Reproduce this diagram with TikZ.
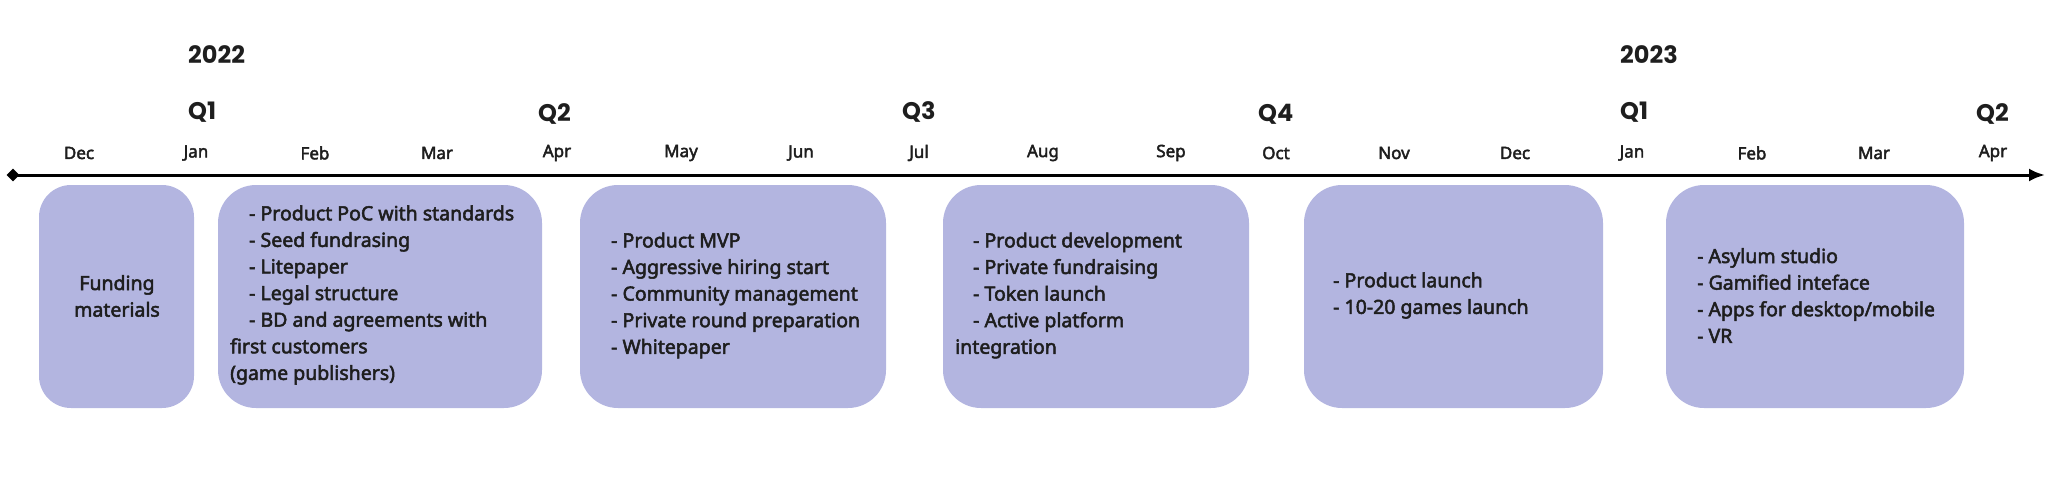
\documentclass[tikz,border=0pt]{standalone}
\usepackage{fontspec}
\setmainfont{Noto Sans}[AutoFakeBold=2.6]
\newfontfamily\qfont{Poppins}
\usetikzlibrary{shapes.geometric,arrows.meta}
\definecolor{boxfill}{HTML}{B3B5E0}
\definecolor{ink}{HTML}{1E1E1E}
\begin{document}
\begin{tikzpicture}[x=1pt,y=-1pt,
  phasebox/.style={fill=boxfill, draw=none, rounded corners=38pt, inner sep=0pt},
  month/.style={font=\fontsize{17}{20}\selectfont\bfseries, text=ink, inner sep=0pt, anchor=center},
  quarter/.style={font=\qfont\fontsize{24}{28}\selectfont\bfseries, text=ink, inner sep=0pt, anchor=west},
  item/.style={font=\fontsize{19.5}{26.6}\selectfont\bfseries, text=ink, align=left, inner sep=0pt, anchor=west}]
\useasboundingbox (0,0) rectangle (2059,485);

% years
\node[quarter] (y2022) at (188,55) {2022};
\node[quarter] (y2023) at (1620,55) {2023};

% quarters
\node[quarter] (q1a) at (188,112) {Q1};
\node[quarter] (q2a) at (538,114) {Q2};
\node[quarter] (q3a) at (902,112) {Q3};
\node[quarter] (q4a) at (1258,114) {Q4};
\node[quarter] (q1b) at (1620,112) {Q1};
\node[quarter] (q2b) at (1976,114) {Q2};

% months
\node[month] (m1) at (79,153) {Dec};
\node[month] (m2) at (196,153) {Jan};
\node[month] (m3) at (315,153) {Feb};
\node[month] (m4) at (437,153) {Mar};
\node[month] (m5) at (557,153) {Apr};
\node[month] (m6) at (681,153) {May};
\node[month] (m7) at (801,153) {Jun};
\node[month] (m8) at (919,153) {Jul};
\node[month] (m9) at (1043,153) {Aug};
\node[month] (m10) at (1171,153) {Sep};
\node[month] (m11) at (1276,153) {Oct};
\node[month] (m12) at (1394,153) {Nov};
\node[month] (m13) at (1515,153) {Dec};
\node[month] (m14) at (1632,153) {Jan};
\node[month] (m15) at (1752,153) {Feb};
\node[month] (m16) at (1874,153) {Mar};
\node[month] (m17) at (1993,153) {Apr};

% axis
\node[diamond, fill=black, minimum size=13pt, inner sep=0pt] (start) at (13,175) {};
\coordinate (end) at (2045,175);
\draw[line width=3pt, -{Latex[length=16pt,width=13pt]}] (start.center) -- (end);

% boxes
\node[phasebox, rounded corners=32pt, minimum width=155pt, minimum height=223pt] (b1) at (116.5,296.5) {};
\node[phasebox, minimum width=324pt, minimum height=223pt] (b2) at (380,296.5) {};
\node[phasebox, minimum width=306pt, minimum height=223pt] (b3) at (733,296.5) {};
\node[phasebox, minimum width=306pt, minimum height=223pt] (b4) at (1096,296.5) {};
\node[phasebox, minimum width=299pt, minimum height=223pt] (b5) at (1453.5,296.5) {};
\node[phasebox, minimum width=298pt, minimum height=223pt] (b6) at (1815,296.5) {};

% texts
\node[item, align=center, anchor=center] (t1) at (117,296) {Funding\\materials};
\node[item] (t2) at (230,295) {\hspace*{19pt}- Product PoC with standards\\
\hspace*{19pt}- Seed fundrasing\\
\hspace*{19pt}- Litepaper\\
\hspace*{19pt}- Legal structure\\
\hspace*{19pt}- BD and agreements with\\
first customers\\
(game publishers)};
\node[item] (t3) at (611,295.5) {- Product MVP\\
- Aggressive hiring start\\
- Community management\\
- Private round preparation\\
- Whitepaper};
\node[item] (t4) at (955,295.5) {\hspace*{18pt}- Product development\\
\hspace*{18pt}- Private fundraising\\
\hspace*{18pt}- Token launch\\
\hspace*{18pt}- Active platform\\
integration};
\node[item] (t5) at (1333,295.5) {- Product launch\\
- 10-20 games launch};
\node[item] (t6) at (1697,295.5) {- Asylum studio\\
- Gamified inteface\\
- Apps for desktop/mobile\\
- VR};
\end{tikzpicture}
\end{document}
